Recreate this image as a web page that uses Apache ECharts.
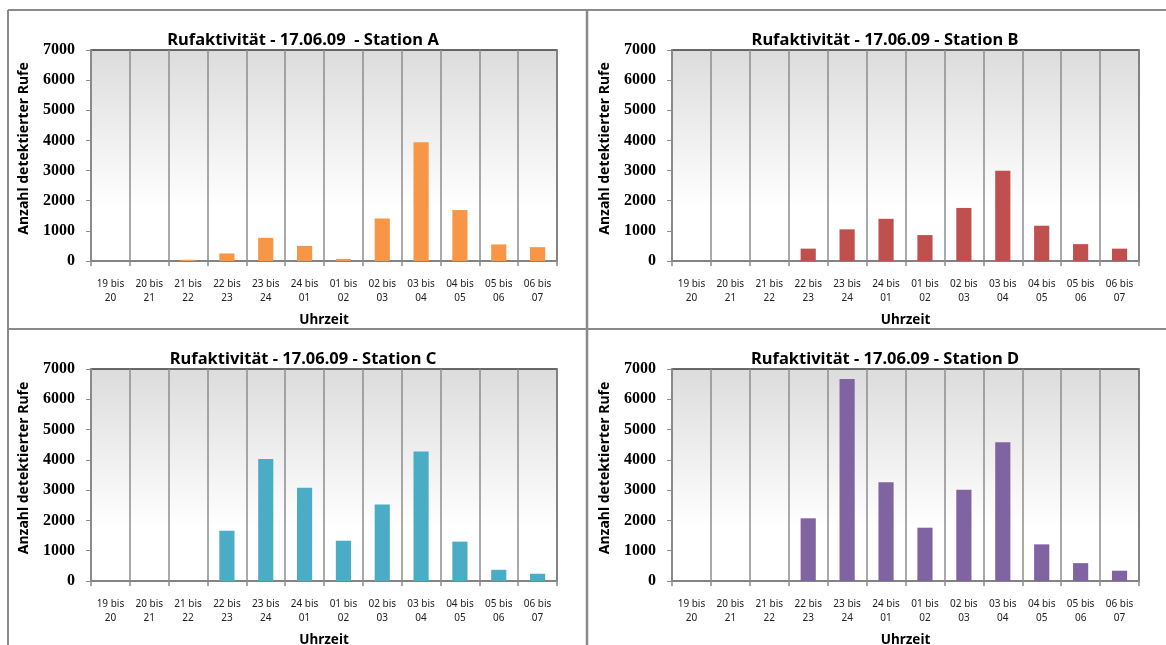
<!DOCTYPE html>
<html>
<head>
<meta charset="utf-8">
<script src="https://cdn.jsdelivr.net/npm/echarts@6/dist/echarts.min.js"></script>
<style>
  html, body { margin: 0; padding: 0; background: #ffffff; }
  #chart { width: 1166px; height: 645px; }
</style>
</head>
<body>
<div id="chart"></div>
<script>
// Hourly intervals (night of 17.06.09)
var categories = ['19 bis\n20', '20 bis\n21', '21 bis\n22', '22 bis\n23', '23 bis\n24', '24 bis\n01',
                  '01 bis\n02', '02 bis\n03', '03 bis\n04', '04 bis\n05', '05 bis\n06', '06 bis\n07'];

// Detected calls per hour, one array per station
var stationA = [0, 0, 40, 250, 770, 500, 70, 1410, 3940, 1690, 550, 460];
var stationB = [0, 0, 0, 410, 1050, 1400, 860, 1760, 2990, 1170, 560, 410];
var stationC = [0, 0, 0, 1660, 4030, 3080, 1330, 2530, 4280, 1300, 370, 240];
var stationD = [0, 0, 0, 2070, 6670, 3260, 1760, 3010, 4580, 1210, 590, 340];

var titles = ['Rufaktivität - 17.06.09  - Station A', 'Rufaktivität - 17.06.09 - Station B',
              'Rufaktivität - 17.06.09 - Station C', 'Rufaktivität - 17.06.09 - Station D'];
var yTicks = { min: 0, max: 7000, interval: 1000 };
var yName = 'Anzahl detektierter Rufe';
var xName = 'Uhrzeit';

var panels = [
  { data: stationA, color: '#F79646', grid: { left: 91, top: 50, width: 466, height: 211 }, titleX: 298, titleY: 27 },
  { data: stationB, color: '#C0504D', grid: { left: 672, top: 50, width: 467, height: 211 }, titleX: 880, titleY: 27 },
  { data: stationC, color: '#4BACC6', grid: { left: 91, top: 369, width: 466, height: 212 }, titleX: 298, titleY: 346 },
  { data: stationD, color: '#8064A2', grid: { left: 672, top: 369, width: 467, height: 212 }, titleX: 880, titleY: 346 }
];

var chart = echarts.init(document.getElementById('chart'), null, { renderer: 'canvas' });

var plotFill = new echarts.graphic.LinearGradient(0, 0, 0, 1, [
  { offset: 0, color: '#dcdcdc' },
  { offset: 0.75, color: '#ffffff' },
  { offset: 1, color: '#ffffff' }
]);

var option = {
  backgroundColor: '#ffffff',
  animation: false,
  title: panels.map(function (p, i) {
    return {
      text: titles[i],
      left: p.titleX, top: p.titleY, textAlign: 'center',
      textStyle: { fontFamily: 'Noto Sans', fontWeight: 'bold', fontSize: 16.5, color: '#000' }
    };
  }),
  grid: panels.map(function (p) {
    return Object.assign({
      show: true, backgroundColor: plotFill, borderColor: '#3a3a3a', borderWidth: 1.5,
      containLabel: false, outerBoundsMode: 'none'
    }, p.grid);
  }),
  xAxis: panels.map(function (p, i) {
    return {
      type: 'category', gridIndex: i, data: categories,
      name: xName, nameLocation: 'middle', nameGap: 52,
      nameTextStyle: { fontFamily: 'Noto Sans', fontWeight: 'bold', fontSize: 13.5, color: '#000' },
      axisLine: { show: true, lineStyle: { color: '#8c8c8c', width: 1.5 } },
      axisTick: { show: true, length: 5, alignWithLabel: false, lineStyle: { color: '#8c8c8c', width: 1.5 } },
      splitLine: { show: true, lineStyle: { color: '#8c8c8c', width: 1.5 } },
      axisLabel: {
        interval: 0, margin: 16, lineHeight: 14,
        fontFamily: 'Noto Sans', fontSize: 10, color: '#222'
      }
    };
  }),
  yAxis: panels.map(function (p, i) {
    return {
      type: 'value', gridIndex: i,
      min: yTicks.min, max: yTicks.max, interval: yTicks.interval,
      name: yName, nameLocation: 'middle', nameGap: 60, nameRotate: 90,
      nameTextStyle: { fontFamily: 'Noto Sans', fontWeight: 'bold', fontSize: 14, color: '#000', padding: [0, 0, 0, 14] },
      axisLine: { show: true, lineStyle: { color: '#8c8c8c', width: 1.5 } },
      axisTick: { show: true, length: 5, lineStyle: { color: '#8c8c8c', width: 1 } },
      splitLine: { show: false },
      axisLabel: {
        margin: 16,
        formatter: function (v) { return String(v); },
        fontFamily: 'Liberation Serif', fontWeight: 'bold', fontSize: 16, color: '#000'
      }
    };
  }),
  series: panels.map(function (p, i) {
    return {
      type: 'bar', xAxisIndex: i, yAxisIndex: i,
      data: p.data, barWidth: '39%',
      itemStyle: { color: p.color }
    };
  }),
  graphic: [
    // panel frames
    { type: 'line', shape: { x1: 8, y1: 10, x2: 1166, y2: 10 }, style: { stroke: '#8a8a8a', lineWidth: 2 }, z: 100 },
    { type: 'line', shape: { x1: 8, y1: 10, x2: 8, y2: 645 }, style: { stroke: '#8a8a8a', lineWidth: 2 }, z: 100 },
    { type: 'line', shape: { x1: 587, y1: 10, x2: 587, y2: 645 }, style: { stroke: '#8a8a8a', lineWidth: 2.5 }, z: 100 },
    { type: 'line', shape: { x1: 8, y1: 329, x2: 1166, y2: 329 }, style: { stroke: '#8a8a8a', lineWidth: 2 }, z: 100 }
  ]
};

chart.setOption(option);
</script>
</body>
</html>
